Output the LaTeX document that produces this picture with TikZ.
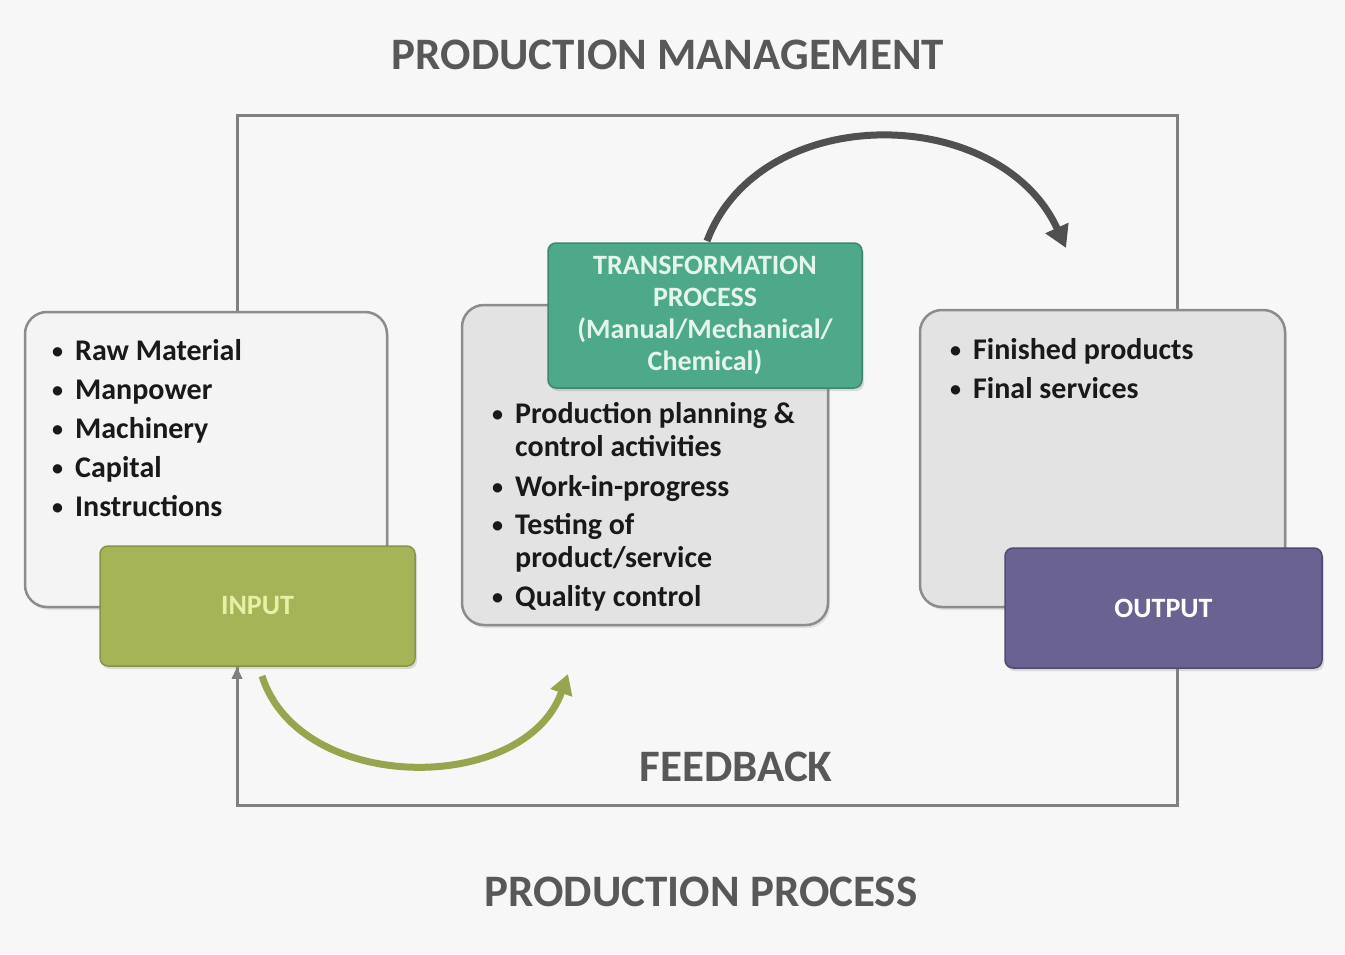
\documentclass[tikz,border=0pt]{standalone}
\usepackage{fontspec}
\setmainfont{Carlito}
\usetikzlibrary{arrows.meta,shadows}
\definecolor{bg}{RGB}{247,247,247}
\definecolor{boxgray}{RGB}{227,227,227}
\definecolor{boxlight}{RGB}{244,244,244}
\definecolor{boxline}{RGB}{140,140,140}
\definecolor{olivebox}{RGB}{166,180,88}
\definecolor{oliveedge}{RGB}{135,148,70}
\definecolor{purpbox}{RGB}{106,98,145}
\definecolor{purpedge}{RGB}{80,74,112}
\definecolor{tealbox}{RGB}{78,168,138}
\definecolor{tealedge}{RGB}{60,135,110}
\definecolor{headgray}{RGB}{88,88,88}
\definecolor{framegray}{RGB}{128,128,128}
\definecolor{arcdark}{RGB}{80,80,80}
\definecolor{arcolive}{RGB}{150,166,78}
\definecolor{inputtxt}{RGB}{232,240,165}
\definecolor{teeltxt}{RGB}{228,246,236}
\definecolor{listtxt}{RGB}{25,25,25}
\newcommand{\bu}{\makebox[25pt][l]{\hspace*{2pt}\raisebox{1.5pt}{\fontsize{22}{22}\selectfont\textbullet}}}
\newcommand{\ind}{\makebox[25pt][l]{}}
\begin{document}
\begin{tikzpicture}[x=1pt,y=-1pt,
  graybox/.style={draw=boxline,line width=2.5pt,rounded corners=22pt,fill=boxgray,inner sep=0pt,
    drop shadow={opacity=0.18,shadow xshift=2pt,shadow yshift=-3pt}},
  colbox/.style={rounded corners=8pt,line width=1.5pt,inner sep=0pt,
    drop shadow={opacity=0.25,shadow xshift=2pt,shadow yshift=-3pt}},
  header/.style={font=\fontsize{45}{50}\selectfont\bfseries,text=headgray,inner sep=0pt},
  listfont/.style={font=\fontsize{30}{39}\selectfont\bfseries,text=listtxt,inner sep=0pt,align=left,anchor=north west},
  framestyle/.style={draw=framegray,line width=3pt},
  darcarrow/.style={draw=arcdark,line width=7pt,-{Triangle[length=22pt,width=24pt]}},
  oarcarrow/.style={draw=arcolive,line width=7pt,-{Triangle[length=20pt,width=22pt]}}
]
\useasboundingbox (0,0) rectangle (1345,954);
\fill[bg] (0,0) rectangle (1345,954);

% frame (feedback loop)
\coordinate (fTL) at (237,115);
\coordinate (fBR) at (1177,805);
\coordinate (fBL) at (237,805);
\draw[framestyle] (fTL) rectangle (fBR);

% headings
\node[header] (title) at (668,55) {PRODUCTION MANAGEMENT};
\node[header] (proc) at (701,892) {PRODUCTION PROCESS};
\node[header] (fb) at (736,767) {FEEDBACK};

% boxes
\node[graybox,fill=boxlight,minimum width=362pt,minimum height=295pt] (inbox) at (206,459.5) {};
\node[graybox,minimum width=366pt,minimum height=320pt] (midbox) at (645,465) {};
\node[graybox,minimum width=365pt,minimum height=297pt] (outbox) at (1102.5,458.5) {};

\node[colbox,fill=olivebox,draw=oliveedge,minimum width=315pt,minimum height=120pt,
      font=\fontsize{28}{30}\selectfont\bfseries,text=inputtxt] (inp) at (257.5,606) {INPUT};
\node[colbox,fill=purpbox,draw=purpedge,minimum width=317pt,minimum height=120pt,
      font=\fontsize{28}{30}\selectfont\bfseries,text=white] (outp) at (1163.5,608) {OUTPUT};
\node[colbox,fill=tealbox,draw=tealedge,minimum width=314pt,minimum height=145pt,
      font=\fontsize{28}{32}\selectfont\bfseries,text=teeltxt,align=center] (trans) at (705,315.5)
      {TRANSFORMATION\\PROCESS\\(Manual/Mechanical/\\Chemical)};

% lists
\node[listfont] (inlist) at (50,339)
  {\bu Raw Material\\ \bu Manpower\\ \bu Machinery\\ \bu Capital\\ \bu Instructions};
\node[listfont,font=\fontsize{30}{33}\selectfont\bfseries] (midlist) at (490,402)
  {\bu Production planning \&\\ \ind control activities\\[7pt]
   \bu Work-in-progress\\[5pt]
   \bu Testing of\\ \ind product/service\\[6pt]
   \bu Quality control};
\node[listfont] (outlist) at (948,338)
  {\bu Finished products\\ \bu Final services};

% feedback arrow into input
\draw[framestyle,-{Triangle[length=12pt,width=10pt]}] (fBL) -- (fBL |- inp.south);

% curved arrows
\coordinate (t1) at (707,241);
\coordinate (t2) at (1066,248);
\draw[darcarrow] (t1) .. controls (760,100) and (1000,103) .. (t2);
\coordinate (b1) at (262,676);
\coordinate (b2) at (568,674);
\draw[oarcarrow] (b1) .. controls (300,795) and (525,795) .. (b2);
\end{tikzpicture}
\end{document}
